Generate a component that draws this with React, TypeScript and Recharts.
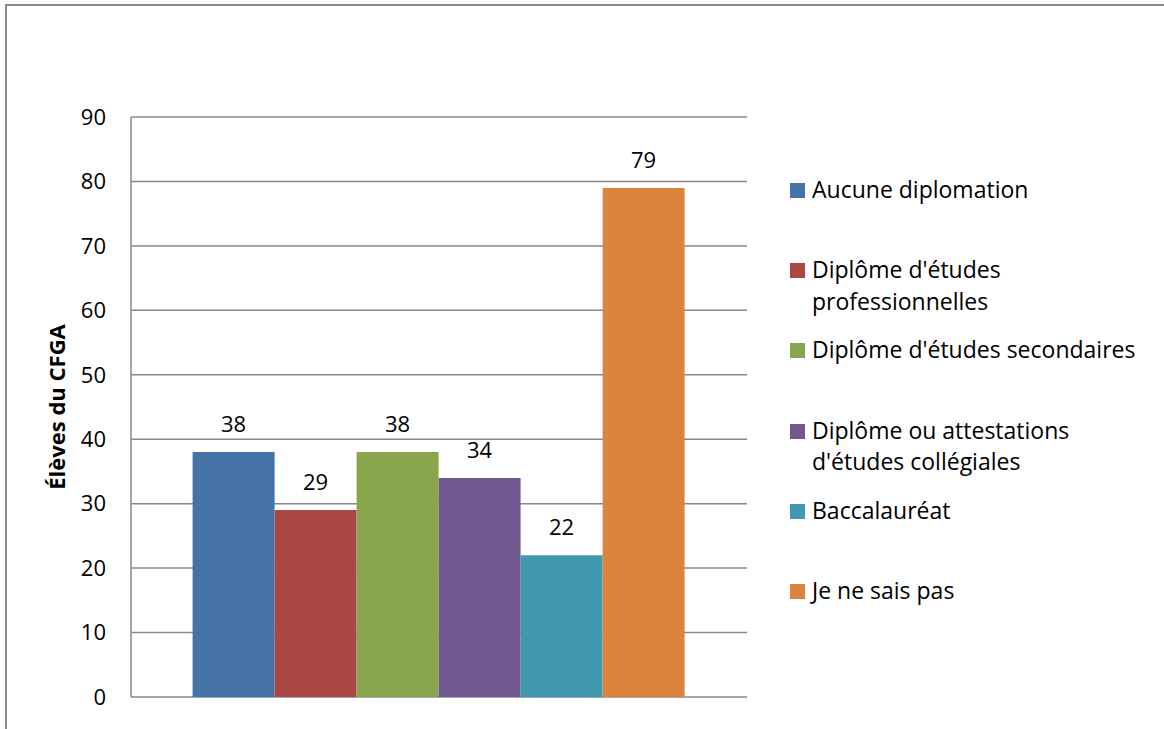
import { BarChart, Bar, XAxis, YAxis, CartesianGrid, Legend, LabelList } from 'recharts'

const seriesNames = [
  'Aucune diplomation',
  "Diplôme d'études professionnelles",
  "Diplôme d'études secondaires",
  "Diplôme ou attestations d'études collégiales",
  'Baccalauréat',
  'Je ne sais pas',
]
const seriesValues = [38, 29, 38, 34, 22, 79]
const seriesColors = ['#4572A7', '#AA4643', '#89A54E', '#71588F', '#4198AF', '#DB843D']
// legend text wraps like the original
const legendLines = [
  ['Aucune diplomation'],
  ["Diplôme d'études", 'professionnelles'],
  ["Diplôme d'études secondaires"],
  ['Diplôme ou attestations', "d'études collégiales"],
  ['Baccalauréat'],
  ['Je ne sais pas'],
]
const yTicks = [0, 10, 20, 30, 40, 50, 60, 70, 80, 90]
const yTitle = 'Élèves du CFGA'

const FONT = '"Open Sans", sans-serif'
const GRID = '#888888'

const row: Record<string, number | string> = { name: '' }
seriesValues.forEach((v, i) => {
  row[`s${i}`] = v
})
const data = [row]

function LegendContent() {
  return (
    <div style={{ fontFamily: FONT, fontSize: 23, color: '#000' }}>
      {legendLines.map((lines, i) => (
        <div key={i} style={{ height: 80.2, display: 'flex', alignItems: 'flex-start' }}>
          <div
            style={{
              width: 15,
              height: 15,
              background: seriesColors[i],
              marginTop: 9,
              marginRight: 7,
              flex: 'none',
            }}
          />
          <div style={{ lineHeight: '31.7px' }}>
            {lines.map((l, j) => (
              <div key={j} style={{ whiteSpace: 'nowrap' }}>{l}</div>
            ))}
          </div>
        </div>
      ))}
    </div>
  )
}

export default function App() {
  return (
    <div style={{ position: 'absolute', left: 0, top: 0, width: 1164, height: 729, background: '#fff' }}>
      <div
        style={{
          position: 'absolute',
          left: 5,
          top: 4,
          width: 1159,
          height: 725,
          borderTop: '2px solid #8c8c8c',
          borderLeft: '2px solid #8c8c8c',
          boxSizing: 'border-box',
        }}
      />
      <div style={{ position: 'absolute', left: 0, top: 0 }}>
        <BarChart
          width={1164}
          height={729}
          data={data}
          margin={{ top: 117, right: 47, bottom: 32, left: 0 }}
          barCategoryGap="10%"
          barGap={0}
        >
          <CartesianGrid vertical={false} stroke={GRID} strokeWidth={1.5} />
          <XAxis dataKey="name" hide />
          <YAxis
            width={131}
            domain={[0, 90]}
            ticks={yTicks}
            interval={0}
            axisLine={{ stroke: GRID, strokeWidth: 1.5 }}
            tickLine={false}
            tickSize={0}
            tickMargin={25}
            tick={{ fill: '#000', fontSize: 22, fontFamily: FONT }}
            label={{
              content: (props: any) => {
                const vb = props.viewBox || {}
                const cy = (vb.y ?? 117) + (vb.height ?? 580) / 2
                return (
                  <text
                    transform={`translate(56, ${cy}) rotate(-90)`}
                    textAnchor="middle"
                    dominantBaseline="central"
                    fontFamily={FONT}
                    fontWeight="bold"
                    fontSize={22}
                    fill="#000"
                  >
                    {yTitle}
                  </text>
                )
              },
            }}
          />
          <Legend
            layout="vertical"
            align="right"
            verticalAlign="top"
            content={<LegendContent />}
            wrapperStyle={{ left: 790, top: 174, width: 370 }}
          />
          {seriesNames.map((n, i) => (
            <Bar key={n} dataKey={`s${i}`} name={n} fill={seriesColors[i]} isAnimationActive={false}>
              <LabelList
                dataKey={`s${i}`}
                position="top"
                offset={20}
                fill="#000"
                fontSize={22}
                fontFamily={FONT}
              />
            </Bar>
          ))}
        </BarChart>
      </div>
    </div>
  )
}
